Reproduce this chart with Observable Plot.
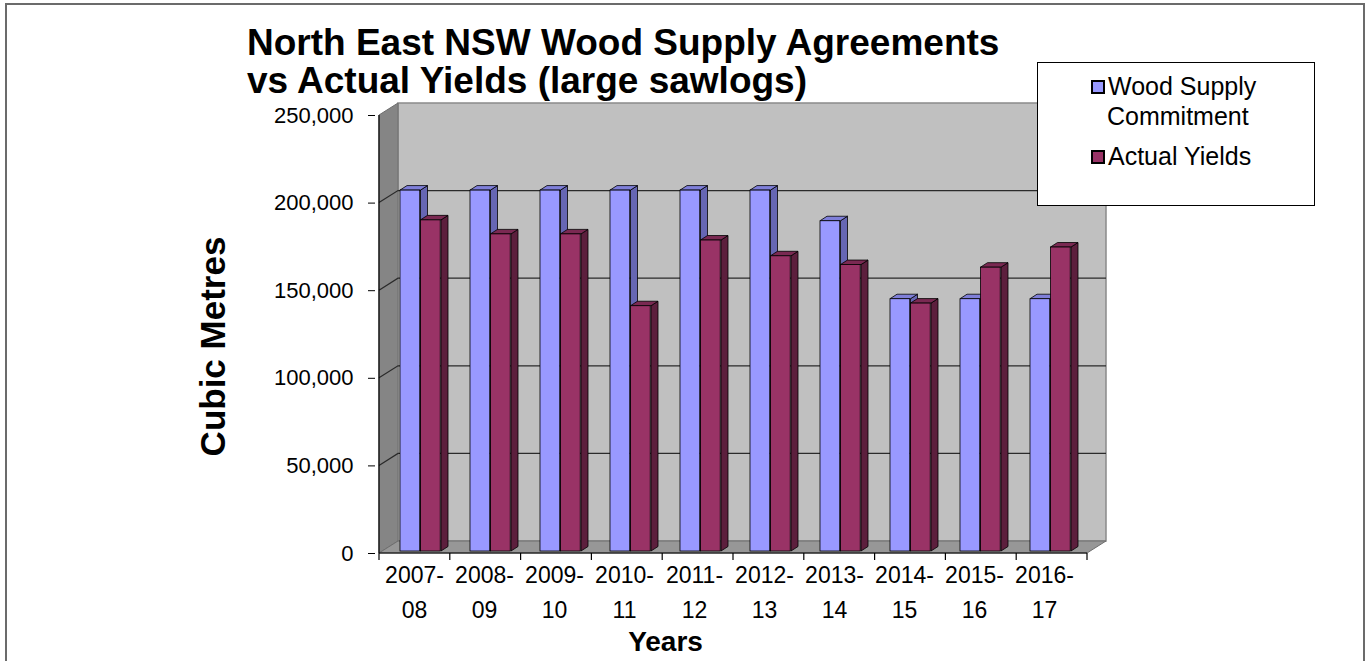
<!DOCTYPE html>
<html>
<head>
<meta charset="utf-8">
<script src="https://cdn.jsdelivr.net/npm/d3@7"></script>
<script src="https://cdn.jsdelivr.net/npm/@observablehq/plot@0.6"></script>
<style>
html, body { margin: 0; padding: 0; background: #fff; overflow: hidden; }
#wrap { position: relative; width: 1368px; height: 661px; font-family: Arial, "Liberation Sans", sans-serif; color: #000; }
#frame { position: absolute; left: 5px; top: 3px; width: 1356px; height: 720px; border: 2px solid #6b6b6b; }
#chart { position: absolute; left: 0; top: 0; }
#title { position: absolute; left: 247px; top: 24px; font-size: 37px; font-weight: bold; line-height: 38px; white-space: nowrap; }
#legend { position: absolute; left: 1037px; top: 62px; width: 276px; height: 142px; border: 1.5px solid #000; background: #fff; }
.sw { position: absolute; width: 10px; height: 10px; border: 2px solid #000; }
.lt { position: absolute; font-size: 25px; line-height: 30px; white-space: nowrap; }
</style>
</head>
<body>
<div id="wrap">
  <div id="frame"></div>
  <div id="chart"></div>
  <div id="title"></div>
  <div id="legend"></div>
</div>
<script>
// ---- data ----
const years = ["2007-08", "2008-09", "2009-10", "2010-11", "2011-12", "2012-13", "2013-14", "2014-15", "2015-16", "2016-17"];
const commitment = [206000, 206000, 206000, 206000, 206000, 206000, 188500, 144000, 144000, 144000];
const actual = [189000, 181000, 181000, 140000, 177500, 168500, 163500, 141500, 162000, 173500];
const seriesNames = ["Wood Supply Commitment", "Actual Yields"];
const yTickValues = [0, 50000, 100000, 150000, 200000, 250000];
const titleLines = ["North East NSW Wood Supply Agreements", "vs Actual Yields (large sawlogs)"];
const yLabel = "Cubic Metres";
const xLabel = "Years";

// ---- styles / layout ----
const W = 1368, H = 661;
const mL = 375, mR = 285, mT = 115, mB = 108;
const bw = (W - mL - mR) / years.length;
const DX = 19, DY = 12;       // wall depth
const BDX = 7, BDY = 4.5;     // bar depth
const LIFT = 2;               // bars sit slightly behind the front edge
const colors = [
  {front: "#9999ff", side: "#6666b3", top: "#7f7fd9"},
  {front: "#993366", side: "#5c1f3d", top: "#7a2952"}
];
const barSpan = [[21, 41.5], [41.5, 62]];
const values = [commitment, actual];

function walls(index, scales) {
  const x = scales.x, y = scales.y;
  const x0 = x(years[0]);
  const x1 = x0 + bw * years.length;
  const yb = y(0), yt = y(yTickValues[yTickValues.length - 1]);
  const g = d3.create("svg:g");
  g.append("rect").attr("x", x0 + DX).attr("y", yt - DY).attr("width", x1 - x0).attr("height", yb - yt)
    .attr("fill", "#c0c0c0").attr("stroke", "#8a8a8a").attr("stroke-width", 1.5);
  g.append("path").attr("d", `M${x0},${yb}L${x0},${yt}L${x0 + DX},${yt - DY}L${x0 + DX},${yb - DY}Z`)
    .attr("fill", "#858585").attr("stroke", "#6e6e6e");
  g.append("path").attr("d", `M${x0},${yb}L${x0 + DX},${yb - DY}L${x1 + DX},${yb - DY}L${x1},${yb}Z`)
    .attr("fill", "#979797").attr("stroke", "#6e6e6e");
  for (const t of yTickValues.slice(1, -1)) {
    const yy = y(t);
    g.append("path").attr("d", `M${x0},${yy}L${x0 + DX},${yy - DY}L${x1 + DX},${yy - DY}`)
      .attr("fill", "none").attr("stroke", "#2a2a2a").attr("stroke-width", 1.2);
  }
  g.append("line").attr("x1", x0).attr("x2", x0).attr("y1", yt).attr("y2", yb).attr("stroke", "#000").attr("stroke-width", 1.2);
  g.append("line").attr("x1", x0).attr("x2", x1).attr("y1", yb).attr("y2", yb).attr("stroke", "#000").attr("stroke-width", 1.2);
  for (let i = 0; i <= years.length; i++) {
    const xx = x0 + i * bw;
    g.append("line").attr("x1", xx).attr("x2", xx).attr("y1", yb).attr("y2", yb + 7).attr("stroke", "#000").attr("stroke-width", 1.2);
  }
  return g.node();
}

function faces(s) {
  return function (index, scales) {
    const x = scales.x, y = scales.y;
    const g = d3.create("svg:g").attr("stroke", "#000").attr("stroke-width", 0.8).attr("stroke-linejoin", "round");
    years.forEach((yr, i) => {
      const xl = x(yr) + barSpan[s][0], xr = x(yr) + barSpan[s][1];
      const yt = y(values[s][i]) - LIFT, yb = y(0) - LIFT;
      g.append("path").attr("fill", colors[s].side)
        .attr("d", `M${xr},${yb}L${xr + BDX},${yb - BDY}L${xr + BDX},${yt - BDY}L${xr},${yt}Z`);
      g.append("path").attr("fill", colors[s].top)
        .attr("d", `M${xl},${yt}L${xl + BDX},${yt - BDY}L${xr + BDX},${yt - BDY}L${xr},${yt}Z`);
    });
    return g.node();
  };
}

function bars(s) {
  return Plot.barY(years, {
    x: d => d,
    y: (d, i) => values[s][i],
    fill: colors[s].front,
    stroke: "#000",
    strokeWidth: 0.8,
    insetLeft: barSpan[s][0],
    insetRight: bw - barSpan[s][1],
    dy: -LIFT
  });
}

const chart = Plot.plot({
  width: W, height: H,
  marginLeft: mL, marginRight: mR, marginTop: mT, marginBottom: mB,
  style: {fontFamily: "Arial, 'Liberation Sans', sans-serif", fontSize: "22px", color: "#000", background: "transparent", overflow: "visible"},
  x: {type: "band", domain: years, padding: 0, axis: null},
  y: {domain: [0, 250000], ticks: 5, tickFormat: d3.format(","), tickSize: 7, tickPadding: 15, label: null},
  marks: [
    walls,
    faces(0), bars(0),
    faces(1), bars(1),
    Plot.text(years, {x: d => d, text: d => d.replace("-", "-\n"), frameAnchor: "bottom", dy: 5, lineAnchor: "top", lineHeight: 1.52, fontSize: 23, fill: "#000"}),
    Plot.text([yLabel], {text: d => d, frameAnchor: "left", dx: -151, dy: 12, rotate: -90, textAnchor: "middle", lineAnchor: "bottom", fontSize: 35, fontWeight: "bold", fill: "#000"}),
    Plot.text([xLabel], {text: d => d, frameAnchor: "bottom", dx: -64, dy: 97, textAnchor: "middle", lineAnchor: "bottom", fontSize: 28, fontWeight: "bold", fill: "#000"})
  ]
});
document.getElementById("chart").appendChild(chart);

document.getElementById("title").innerHTML = titleLines.join("<br>");

const legend = document.getElementById("legend");
const items = [
  {lines: ["Wood Supply", "Commitment"], color: colors[0].front, top: 8},
  {lines: ["Actual Yields"], color: colors[1].front, top: 78}
];
items.forEach((it, k) => {
  const sw = document.createElement("div");
  sw.className = "sw";
  sw.style.background = it.color;
  sw.style.left = "53px";
  sw.style.top = (it.top + 9) + "px";
  legend.appendChild(sw);
  it.lines.forEach((ln, j) => {
    const t = document.createElement("div");
    t.className = "lt";
    t.textContent = ln;
    t.style.left = (j === 0 ? 70 : 69) + "px";
    t.style.top = (it.top + j * 30) + "px";
    legend.appendChild(t);
  });
});
</script>
</body>
</html>
